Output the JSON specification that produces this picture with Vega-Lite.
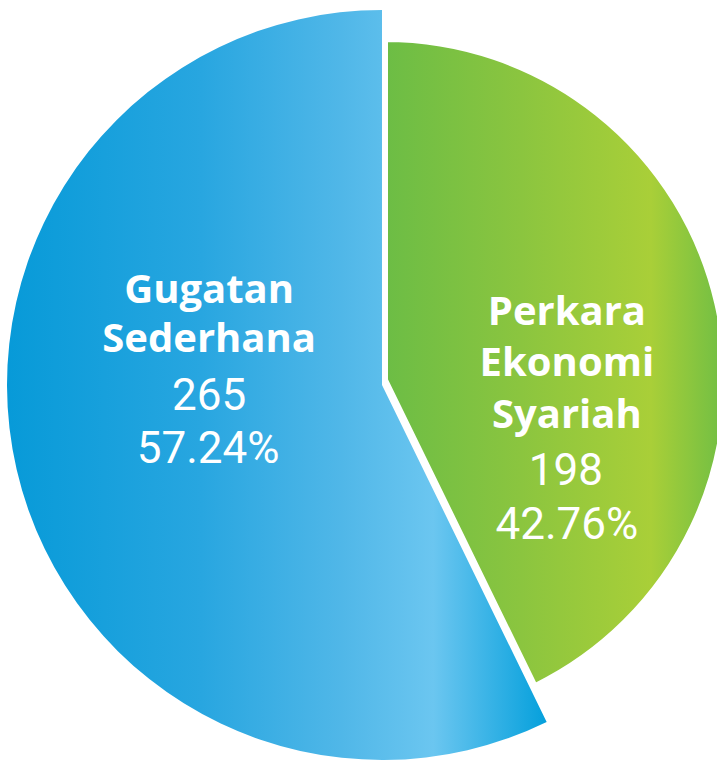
{
  "$schema": "https://vega.github.io/schema/vega-lite/v6.json",
  "width": 717,
  "height": 761,
  "autosize": {"type": "none"},
  "padding": 0,
  "background": "white",
  "config": {"view": {"stroke": null}},
  "data": {
    "values": [
      {"slice": "Gugatan Sederhana", "label": "Gugatan\nSederhana", "count": 265, "share": 0.5724},
      {"slice": "Perkara Ekonomi Syariah", "label": "Perkara\nEkonomi\nSyariah", "count": 198, "share": 0.4276}
    ]
  },
  "layer": [
    {
      "transform": [
        {"stack": "count", "groupby": [], "sort": [{"field": "count", "order": "ascending"}], "as": ["t0", "t1"]},
        {"filter": "datum.slice === 'Gugatan Sederhana'"}
      ],
      "mark": {
        "type": "arc",
        "radius": 375,
        "xOffset": 23.5,
        "yOffset": 4.5,
        "fill": {
          "gradient": "linear", "x1": 0, "y1": 0, "x2": 1, "y2": 0,
          "stops": [
            {"offset": 0, "color": "#079ad8"},
            {"offset": 0.36, "color": "#28a6e0"},
            {"offset": 0.62, "color": "#50b7e8"},
            {"offset": 0.79, "color": "#6bc6f0"},
            {"offset": 1, "color": "#05a0dc"}
          ]
        }
      },
      "encoding": {
        "theta": {"field": "t0", "type": "quantitative"},
        "theta2": {"field": "t1"}
      }
    },
    {
      "transform": [
        {"stack": "count", "groupby": [], "sort": [{"field": "count", "order": "ascending"}], "as": ["t0", "t1"]},
        {"filter": "datum.slice === 'Perkara Ekonomi Syariah'"}
      ],
      "mark": {
        "type": "arc",
        "radius": 341,
        "xOffset": 26.5,
        "yOffset": -0.5,
        "stroke": "white",
        "strokeWidth": 6,
        "fill": {
          "gradient": "linear", "x1": 0, "y1": 0, "x2": 1, "y2": 0,
          "stops": [
            {"offset": 0, "color": "#6cbd45"},
            {"offset": 0.4, "color": "#8bc53f"},
            {"offset": 0.78, "color": "#a9cf38"},
            {"offset": 1, "color": "#6fbe44"}
          ]
        }
      },
      "encoding": {
        "theta": {"field": "t0", "type": "quantitative"},
        "theta2": {"field": "t1"}
      }
    },
    {
      "mark": {"type": "text", "radius": 180, "dx": 26, "dy": -118, "font": "Open Sans", "fontWeight": 700, "fontSize": 40, "fill": "white", "lineBreak": "\n", "lineHeight": 49, "align": "center", "baseline": "alphabetic"},
      "encoding": {
        "theta": {"field": "count", "type": "quantitative", "stack": true},
        "order": {"field": "count", "type": "quantitative", "sort": "ascending"},
        "text": {"condition": {"test": "datum.slice === 'Gugatan Sederhana'", "field": "label"}, "value": ""}
      }
    },
    {
      "mark": {"type": "text", "radius": 180, "dx": 26, "dy": -11, "font": "Roboto", "fontWeight": 400, "fontSize": 44, "fill": "white", "align": "center", "baseline": "alphabetic"},
      "encoding": {
        "theta": {"field": "count", "type": "quantitative", "stack": true},
        "order": {"field": "count", "type": "quantitative", "sort": "ascending"},
        "text": {"condition": {"test": "datum.slice === 'Gugatan Sederhana'", "field": "count", "type": "quantitative"}, "value": ""}
      }
    },
    {
      "mark": {"type": "text", "radius": 180, "dx": 25, "dy": 42, "font": "Roboto", "fontWeight": 400, "fontSize": 44, "fill": "white", "align": "center", "baseline": "alphabetic"},
      "encoding": {
        "theta": {"field": "count", "type": "quantitative", "stack": true},
        "order": {"field": "count", "type": "quantitative", "sort": "ascending"},
        "text": {"condition": {"test": "datum.slice === 'Gugatan Sederhana'", "field": "share", "type": "quantitative", "format": ".2%"}, "value": ""}
      }
    },
    {
      "mark": {"type": "text", "radius": 180, "dx": 33, "dy": -15, "font": "Open Sans", "fontWeight": 700, "fontSize": 40, "fill": "white", "lineBreak": "\n", "lineHeight": 51.5, "align": "center", "baseline": "alphabetic"},
      "encoding": {
        "theta": {"field": "count", "type": "quantitative", "stack": true},
        "order": {"field": "count", "type": "quantitative", "sort": "ascending"},
        "text": {"condition": {"test": "datum.slice === 'Perkara Ekonomi Syariah'", "field": "label"}, "value": ""}
      }
    },
    {
      "mark": {"type": "text", "radius": 180, "dx": 32, "dy": 145, "font": "Roboto", "fontWeight": 400, "fontSize": 44, "fill": "white", "align": "center", "baseline": "alphabetic"},
      "encoding": {
        "theta": {"field": "count", "type": "quantitative", "stack": true},
        "order": {"field": "count", "type": "quantitative", "sort": "ascending"},
        "text": {"condition": {"test": "datum.slice === 'Perkara Ekonomi Syariah'", "field": "count", "type": "quantitative"}, "value": ""}
      }
    },
    {
      "mark": {"type": "text", "radius": 180, "dx": 33, "dy": 199, "font": "Roboto", "fontWeight": 400, "fontSize": 44, "fill": "white", "align": "center", "baseline": "alphabetic"},
      "encoding": {
        "theta": {"field": "count", "type": "quantitative", "stack": true},
        "order": {"field": "count", "type": "quantitative", "sort": "ascending"},
        "text": {"condition": {"test": "datum.slice === 'Perkara Ekonomi Syariah'", "field": "share", "type": "quantitative", "format": ".2%"}, "value": ""}
      }
    }
  ]
}
